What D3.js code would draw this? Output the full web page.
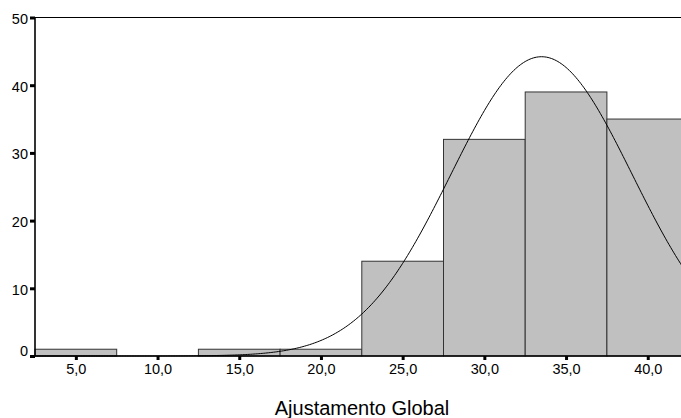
<!DOCTYPE html>
<html>
<head>
<meta charset="utf-8">
<script src="https://cdn.jsdelivr.net/npm/d3@7"></script>
<style>
  html, body { margin: 0; padding: 0; background: #fff; }
  svg { display: block; font-family: "Liberation Sans", Arial, sans-serif; }
</style>
</head>
<body>
<svg id="chart" width="681" height="418"></svg>
<script>
// Data
const binCenters = [5, 10, 15, 20, 25, 30, 35, 40];
const counts = [1, 0, 1, 1, 14, 32, 39, 35];
const binWidth = 5;
const xTicks = [5, 10, 15, 20, 25, 30, 35, 40];
const yTicks = [0, 10, 20, 30, 40, 50];
const fitMean = 33.5;
const fitSD = 5.55;
const xTitle = "Ajustamento Global";

const svg = d3.select("#chart");
const x = d3.scaleLinear().domain([2.5, 42.5]).range([35, 688.6]);
const y = d3.scaleLinear().domain([0, 50]).range([356, 17.5]);

const fmt = d => d.toFixed(1).replace(".", ",");

// Bars
svg.append("g").selectAll("rect")
  .data(binCenters.map((c, i) => ({ c, n: counts[i] })).filter(d => d.n > 0))
  .join("rect")
  .attr("x", d => x(d.c - binWidth / 2))
  .attr("width", d => x(d.c + binWidth / 2) - x(d.c - binWidth / 2))
  .attr("y", d => y(d.n))
  .attr("height", d => y(0) - y(d.n))
  .attr("fill", "#c0c0c0")
  .attr("stroke", "#333")
  .attr("stroke-width", 1);

// Normal curve
const total = d3.sum(counts);
const nPts = 400;
const curvePts = d3.range(nPts + 1).map(i => {
  const v = 2.5 + (40 * i) / nPts;
  const z = (v - fitMean) / fitSD;
  return [v, total * binWidth / (fitSD * Math.sqrt(2 * Math.PI)) * Math.exp(-0.5 * z * z)];
});
svg.append("path")
  .attr("d", d3.line().x(d => x(d[0])).y(d => y(d[1])).curve(d3.curveLinear)(curvePts))
  .attr("fill", "none")
  .attr("stroke", "#000")
  .attr("stroke-width", 1);

// Top frame line
svg.append("line")
  .attr("x1", 35).attr("x2", 681)
  .attr("y1", y(50)).attr("y2", y(50))
  .attr("stroke", "#000").attr("stroke-width", 1.2);

// Y axis
const yAxis = d3.axisLeft(y).tickValues(yTicks).tickSize(5).tickPadding(2).tickFormat(d3.format("d"));
const gy = svg.append("g").attr("transform", "translate(35,0)").call(yAxis);
gy.select(".domain").attr("stroke", "#000").attr("stroke-width", 1.6).attr("d", `M0,${y(50)}V${y(0)}`);
gy.selectAll(".tick line").attr("stroke", "#000").attr("stroke-width", 3);
gy.selectAll(".tick text").attr("font-size", 14.5).attr("fill", "#000")
  .attr("font-family", "'Liberation Sans', Arial, sans-serif")
  .attr("dy", d => d === 0 ? "-0.05em" : "0.4em");

// X axis
const xAxis = d3.axisBottom(x).tickValues(xTicks).tickSize(4).tickPadding(4).tickFormat(fmt);
const gx = svg.append("g").attr("transform", `translate(0,${y(0)})`).call(xAxis);
gx.select(".domain").attr("stroke", "#000").attr("stroke-width", 1.6).attr("d", `M35,0H688.6`);
gx.selectAll(".tick line").attr("stroke", "#000").attr("stroke-width", 3);
gx.selectAll(".tick text").attr("font-size", 14.5).attr("fill", "#000")
  .attr("font-family", "'Liberation Sans', Arial, sans-serif");

// X title
svg.append("text")
  .attr("x", 362).attr("y", 415)
  .attr("text-anchor", "middle")
  .attr("font-size", 20)
  .attr("fill", "#000")
  .text(xTitle);
</script>
</body>
</html>
